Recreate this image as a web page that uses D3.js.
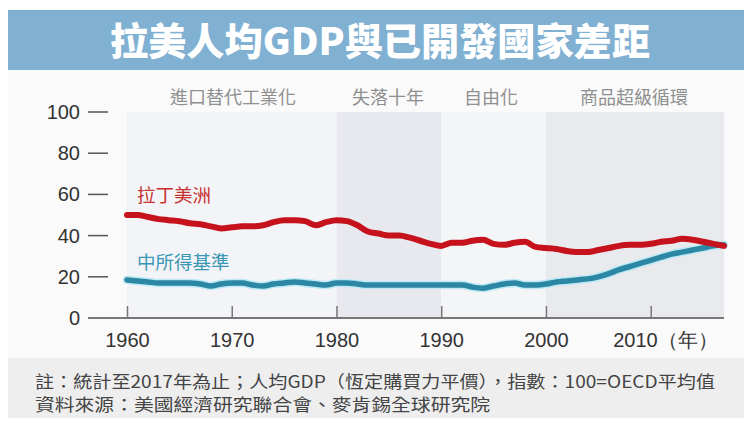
<!DOCTYPE html>
<html>
<head>
<meta charset="utf-8">
<script src="https://cdn.jsdelivr.net/npm/d3@7"></script>
<style>
  body { margin: 0; background: #fff; }
  svg { display: block; font-family: "Noto Sans CJK TC", "Liberation Sans", sans-serif; }
</style>
</head>
<body>
<svg id="chart" width="744" height="423"></svg>
<script>
// years 1960..2017
var years = d3.range(1960, 2018)
// 拉丁美洲 per capita GDP index (OECD avg = 100)
var latam = [50, 50, 49, 48, 47.5, 47, 46, 45.5, 44.5, 43.5,
             44, 44.5, 44.5, 45, 46.5, 47.5, 47.5, 47, 45, 46.5,
             47.5, 47, 45, 42, 41, 40, 40, 39, 37.5, 36,
             35, 36.5, 36.5, 37.5, 38, 36, 35.5, 36.5, 37, 34.5,
             34, 33.5, 32.5, 32, 32, 33, 34, 35, 35.5, 35.5,
             36, 37, 37.5, 38.5, 38, 37, 36, 35]
// 中所得基準
var midIncome = [18.5, 18, 17.5, 17, 17, 17, 17, 16.5, 15.5, 16.5,
                 17, 17, 16, 15.5, 16.5, 17, 17.5, 17, 16.5, 16,
                 17, 17, 16.5, 16, 16, 16, 16, 16, 16, 16,
                 16, 16, 16, 15, 14.5, 15.5, 16.5, 17, 16, 16,
                 16.5, 17.5, 18, 18.5, 19, 20, 21.5, 23.5, 25, 26.5,
                 28, 29.5, 31, 32, 33, 34, 35, 35.5]
var yTicks = [0, 20, 40, 60, 80, 100]
var xTicks = [1960, 1970, 1980, 1990, 2000, 2010]
var eras = [
  {name: "進口替代工業化", from: 1960, to: 1980, fill: "#f3f4f7"},
  {name: "失落十年", from: 1980, to: 1990, fill: "#e8e9ee"},
  {name: "自由化", from: 1990, to: 2000, fill: "#f4f5f7"},
  {name: "商品超級循環", from: 2000, to: 2017, fill: "#e9eaee"}
]
var eraLabelX = [233, 388, 491, 634]

var svg = d3.select("#chart")

// panels
svg.append("rect").attr("x", 8).attr("y", 70).attr("width", 736).attr("height", 290).attr("fill", "#fafafa")
svg.append("rect").attr("x", 8).attr("y", 358).attr("width", 736).attr("height", 60).attr("fill", "#eeeeef")

// title banner
svg.append("rect").attr("x", 8).attr("y", 10).attr("width", 736).attr("height", 60).attr("fill", "#80b0d2")
svg.append("text").attr("x", 380).attr("y", 55).attr("text-anchor", "middle")
  .attr("fill", "#fff").attr("font-size", 38).attr("font-weight", "900")
  .attr("textLength", 540).attr("lengthAdjust", "spacingAndGlyphs")
  .text("拉美人均GDP與已開發國家差距")

var x = d3.scaleLinear().domain([1960, 2017]).range([127, 724])
var y = d3.scaleLinear().domain([0, 100]).range([318, 112])

// era bands
svg.selectAll(".era").data(eras).enter().append("rect")
  .attr("class", "era")
  .attr("x", function(d) { return x(d.from) })
  .attr("y", y(100))
  .attr("width", function(d) { return x(d.to) - x(d.from) })
  .attr("height", y(0) - y(100))
  .attr("fill", function(d) { return d.fill })

svg.selectAll(".eraLabel").data(eras).enter().append("text")
  .attr("class", "eraLabel")
  .attr("x", function(d, i) { return eraLabelX[i] })
  .attr("y", 104)
  .attr("text-anchor", "middle")
  .attr("font-size", 18)
  .attr("fill", "#8f8f8f")
  .text(function(d) { return d.name })

// y axis labels with dashes
var yg = svg.append("g")
yg.selectAll("text").data(yTicks).enter().append("text")
  .attr("x", 80).attr("y", function(d) { return y(d) + 7 })
  .attr("text-anchor", "end")
  .attr("font-family", "Liberation Sans, Arial, sans-serif")
  .attr("font-size", 20).attr("fill", "#333")
  .text(function(d) { return d })
yg.selectAll("line").data(yTicks.filter(function(d) { return d > 0 })).enter().append("line")
  .attr("x1", 88).attr("x2", 108)
  .attr("y1", function(d) { return y(d) }).attr("y2", function(d) { return y(d) })
  .attr("stroke", "#555").attr("stroke-width", 1.5)

// x axis
var xAxis = d3.axisBottom(x).tickValues(xTicks).tickSize(-12).tickPadding(10)
  .tickFormat(function(d) { return d === 2010 ? "2010（年）" : d })
var xg = svg.append("g").attr("transform", "translate(0," + y(0) + ")").call(xAxis)
xg.select(".domain").remove()
xg.append("line").attr("x1", 88).attr("x2", 724).attr("y1", 0).attr("y2", 0)
  .attr("stroke", "#777").attr("stroke-width", 1.8)
xg.selectAll(".tick line").attr("stroke", "#777").attr("stroke-width", 1.5)
xg.selectAll(".tick text").attr("font-size", 20).attr("fill", "#333")
  .attr("font-family", "Liberation Sans, Arial, sans-serif")
  .attr("dy", "0.95em")
xg.selectAll(".tick text").filter(function(d) { return d === 2010 })
  .attr("text-anchor", "start").attr("dx", -38)

// lines
var line = d3.line()
  .x(function(d) { return x(d[0]) })
  .y(function(d) { return y(d[1]) })
  .curve(d3.curveMonotoneX)

var midPts = years.map(function(yr, i) { return [yr, midIncome[i]] })
var latPts = years.map(function(yr, i) { return [yr, latam[i]] })

svg.append("path").datum(midPts).attr("d", line)
  .attr("fill", "none").attr("stroke", "#bfeaf5").attr("stroke-width", 8.5)
  .attr("stroke-linecap", "round")
svg.append("path").datum(midPts).attr("d", line)
  .attr("fill", "none").attr("stroke", "#2b87a3").attr("stroke-width", 5.5)
  .attr("stroke-linecap", "round")
svg.append("path").datum(latPts).attr("d", line)
  .attr("fill", "none").attr("stroke", "#c6121c").attr("stroke-width", 6)
  .attr("stroke-linecap", "round")

// series labels
svg.append("text").attr("x", 137).attr("y", 202).attr("font-size", 18.5)
  .attr("fill", "#c8302e").text("拉丁美洲")
svg.append("text").attr("x", 137).attr("y", 269).attr("font-size", 18.5)
  .attr("fill", "#3a97b5").text("中所得基準")

// footer notes
svg.append("text").attr("x", 35).attr("y", 388).attr("font-size", 17).attr("fill", "#444")
  .attr("textLength", 680).attr("lengthAdjust", "spacingAndGlyphs")
  .text("註：統計至2017年為止；人均GDP（恆定購買力平價），指數：100=OECD平均值")
svg.append("text").attr("x", 35).attr("y", 411).attr("font-size", 17).attr("fill", "#444")
  .attr("textLength", 455).attr("lengthAdjust", "spacingAndGlyphs")
  .text("資料來源：美國經濟研究聯合會、麥肯錫全球研究院")
</script>
</body>
</html>
